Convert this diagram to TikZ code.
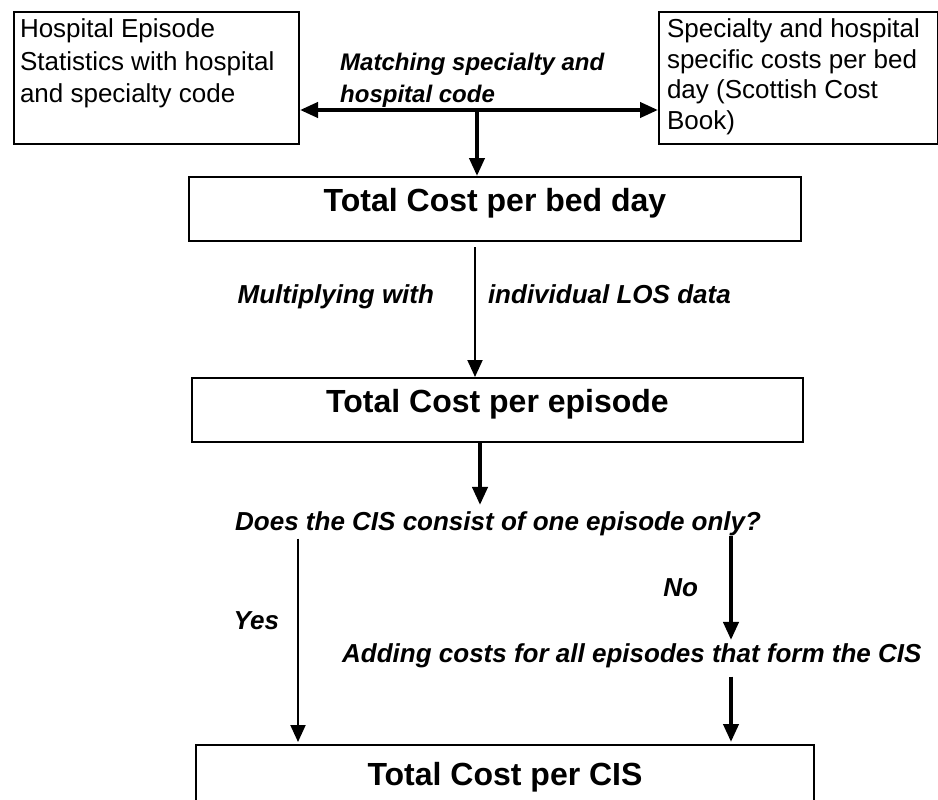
\documentclass[tikz,border=0pt]{standalone}
\usepackage{fontspec}
\setmainfont{Liberation Sans}
\usetikzlibrary{arrows.meta, positioning}

\tikzset{
  srcbox/.style={draw, line width=2pt, anchor=north west, align=flush left, inner xsep=6pt, inner ysep=7pt, text height=19pt, text depth=99pt, font=\fontsize{26}{32.5}\selectfont},
  costbox/.style={draw, line width=2pt, anchor=north west, inner ysep=0pt, text height=34pt, text depth=30pt, font=\fontsize{32}{38}\selectfont\bfseries},
  lbl/.style={inner sep=0pt, font=\fontsize{26}{30}\selectfont\bfseries\itshape},
  thickarr/.style={-{Triangle[length=18pt,width=15pt]}, line width=4pt},
  thinarr/.style={-{Triangle[length=17pt,width=15pt]}, line width=2pt}
}

\begin{document}
\begin{tikzpicture}[x=1pt, y=-1pt]
   \useasboundingbox (0,0) rectangle (938,800);
   \clip (0,0) rectangle (938,800);
   \node[srcbox, text width=273pt] (hes) at (13,11) {Hospital Episode\\Statistics with hospital\\and specialty code};
   \node[srcbox, text width=263pt, inner xsep=8pt, font=\fontsize{26}{30.5}\selectfont] (spec) at (658,11) {Specialty and hospital\\specific costs per bed\\day (Scottish Cost\\Book)};
   \coordinate (mid) at (477,110);
   \node[lbl, font=\fontsize{24}{32}\selectfont\bfseries\itshape, align=flush left, anchor=south west] (match) at (340,108) {Matching specialty and\\hospital code};
   \node[costbox, minimum width=612pt] (bedday) at (188,176) {Total Cost per bed day};
   \node[costbox, minimum width=611pt] (episode) at (191,377) {Total Cost per episode};
   \node[lbl, anchor=base west] (question) at (235,530) {Does the CIS consist of one episode only?};
   \node[lbl, anchor=base west] (adding) at (342,662) {Adding costs for all episodes that form the CIS};
   \node[costbox, minimum width=618pt, text height=40pt, text depth=40pt] (cis) at (195,744) {Total Cost per CIS};
    \draw[line width=4pt, {Triangle[length=18pt,width=15pt]}-{Triangle[length=18pt,width=15pt]}] (mid -| hes.east) -- (mid -| spec.west);
    \draw[thickarr] (mid) -- (mid |- bedday.north);
    \draw[thinarr, shorten <=5pt] (bedday.south -| 475,0) -- node[lbl, pos=0.4526, anchor=base east, xshift=-40pt] {Multiplying with} node[lbl, pos=0.4526, anchor=base west, xshift=12pt] {individual LOS data} (episode.north -| 475,0);
    \draw[thickarr, shorten >=6pt] (episode.south -| 480,0) -- (question.north -| 480,0);
    \draw[thinarr, shorten <=3pt, shorten >=2pt] (question.south -| 298,0) -- node[lbl, pos=0.45, anchor=base east, xshift=-18pt] {Yes} (cis.north -| 298,0);
    \draw[thickarr, shorten >=3pt] (question.south -| 731,0) -- node[lbl, pos=0.57, anchor=base east, xshift=-31pt] {No} (adding.north -| 731,0);
    \draw[thickarr, shorten <=9pt, shorten >=2pt] (adding.south -| 731,0) -- (cis.north -| 731,0);
\end{tikzpicture}
\end{document}
